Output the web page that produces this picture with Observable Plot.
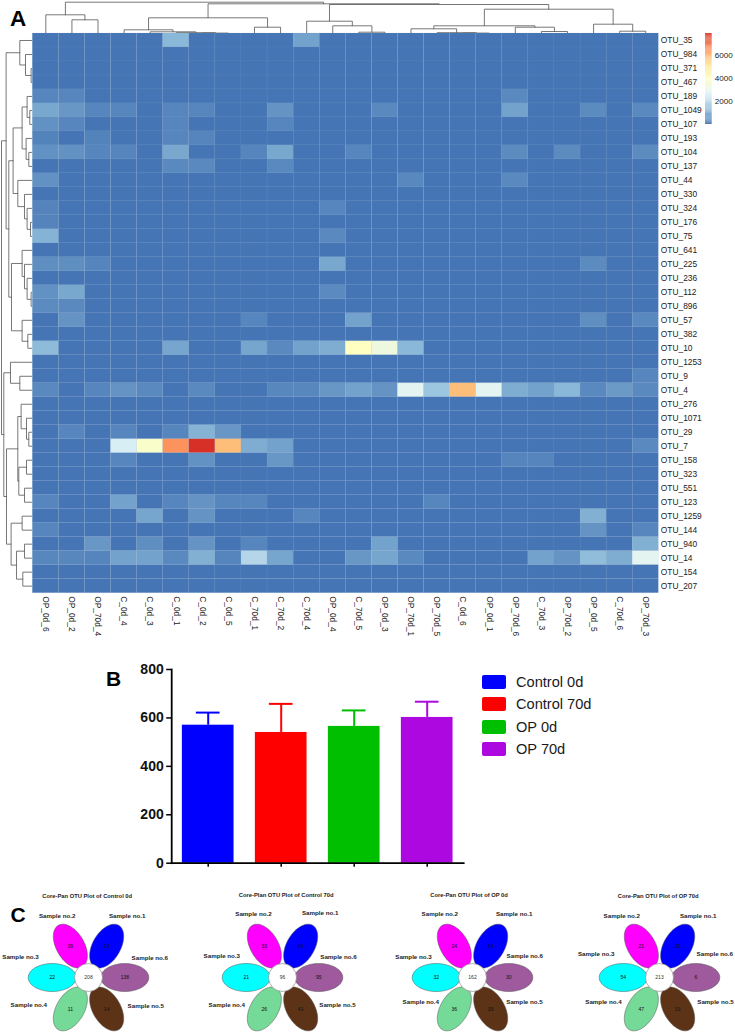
<!DOCTYPE html>
<html>
<head>
<meta charset="utf-8">
<script src="https://cdn.jsdelivr.net/npm/d3@7"></script>
<script src="https://cdn.jsdelivr.net/npm/@observablehq/plot@0.6"></script>
<style>
html,body{margin:0;padding:0;background:#fff}
#fig{position:relative;width:735px;height:1033px;overflow:hidden;font-family:"Liberation Sans",Arial,sans-serif}
#fig svg{position:absolute;background:transparent;max-width:none}
.pl{position:absolute;font-weight:bold;color:#000;line-height:1}
.sw{position:absolute;width:24px;height:14px;border-radius:2px}
.lg{position:absolute;font-size:14.6px;color:#1a1a1a;line-height:1}
</style>
</head>
<body>
<div id="fig"></div>
<script>
// ---------- Panel A data ----------
const samples = ["OP_0d_6","OP_0d_2","OP_70d_4","C_0d_4","C_0d_3","C_0d_1","C_0d_2","C_0d_5","C_70d_1","C_70d_2","C_70d_4","OP_0d_4","C_70d_5","OP_0d_3","OP_70d_1","OP_70d_5","C_0d_6","OP_0d_1","OP_70d_6","C_70d_3","OP_70d_2","OP_0d_5","C_70d_6","OP_70d_3"];
const otus = ["OTU_35","OTU_984","OTU_371","OTU_467","OTU_189","OTU_1049","OTU_107","OTU_193","OTU_104","OTU_137","OTU_44","OTU_330","OTU_324","OTU_176","OTU_75","OTU_641","OTU_225","OTU_236","OTU_112","OTU_896","OTU_57","OTU_382","OTU_10","OTU_1253","OTU_9","OTU_4","OTU_276","OTU_1071","OTU_29","OTU_7","OTU_158","OTU_323","OTU_551","OTU_123","OTU_1259","OTU_144","OTU_940","OTU_14","OTU_154","OTU_207"];
const abundance = [
[0,0,0,0,0,1200,0,0,0,0,800,0,0,0,0,0,0,0,0,0,0,0,0,0],
[0,0,0,0,0,0,0,0,0,0,0,0,0,0,0,0,0,0,0,0,0,0,0,0],
[0,0,0,0,0,0,0,0,0,0,0,0,0,0,0,0,0,0,0,0,0,0,0,0],
[0,0,0,0,0,0,0,0,0,0,0,0,0,0,0,0,0,0,0,0,0,0,0,0],
[300,300,0,0,0,0,0,0,0,0,0,0,0,0,0,0,0,0,350,0,0,0,0,0],
[900,600,300,300,0,300,300,0,0,550,0,0,0,350,0,0,0,0,800,0,0,400,0,350],
[500,300,0,0,0,300,0,0,0,300,0,0,0,0,0,0,0,0,0,0,0,0,0,0],
[250,0,250,0,0,300,280,0,0,0,0,0,0,0,0,0,0,0,0,0,0,0,0,0],
[500,500,300,280,0,900,0,0,280,900,0,0,300,0,0,0,0,0,400,0,400,0,0,400],
[0,0,0,0,0,350,350,0,0,350,0,0,0,0,0,0,0,0,0,0,0,0,0,0],
[500,0,0,0,0,0,0,0,0,0,0,0,0,0,330,0,0,0,350,0,0,0,0,0],
[0,0,0,0,0,0,0,0,0,0,0,0,0,0,0,0,0,0,0,0,0,0,0,0],
[270,0,0,0,0,0,0,0,0,0,0,300,0,0,0,0,0,0,0,0,0,0,0,0],
[270,0,0,0,0,0,0,0,0,0,0,0,0,0,0,0,0,0,0,0,0,0,0,0],
[1100,0,0,0,0,0,0,0,0,0,0,350,0,0,0,0,0,0,0,0,0,0,0,0],
[0,0,0,0,0,0,0,0,0,0,0,0,0,0,0,0,0,0,0,0,0,0,0,0],
[450,450,280,0,0,0,0,0,0,0,0,900,0,0,0,0,0,0,0,0,0,400,0,0],
[0,0,0,0,0,0,0,0,0,0,0,0,0,0,0,0,0,0,0,0,0,0,0,0],
[500,900,0,0,0,0,0,0,0,0,0,370,0,0,0,0,0,0,0,0,0,0,0,0],
[400,350,0,0,0,0,0,0,0,0,0,0,0,0,0,0,0,0,0,0,0,0,0,0],
[0,550,0,0,0,0,0,0,300,0,0,0,800,0,0,0,0,0,0,0,0,450,0,350],
[0,0,0,0,0,0,0,0,0,0,0,0,0,0,0,0,0,0,0,0,0,0,0,0],
[1250,0,0,0,0,850,0,0,850,350,800,1000,3900,3200,1200,0,0,0,0,0,0,0,0,0],
[0,0,0,0,0,0,0,0,0,0,0,0,0,0,0,0,0,0,0,0,0,0,0,0],
[0,0,0,0,0,0,0,0,0,0,0,0,0,0,0,0,0,0,0,0,0,0,0,300],
[350,0,300,550,350,0,350,0,0,320,320,600,800,550,2800,1500,5800,2800,1000,800,1200,350,650,350],
[0,0,0,0,0,0,0,0,0,0,0,0,0,0,0,0,0,0,0,0,0,0,0,0],
[0,0,0,0,0,0,0,0,0,0,0,0,0,0,0,0,0,0,0,0,0,0,0,0],
[0,300,0,300,0,300,1100,600,0,0,0,0,0,0,0,0,0,0,0,0,0,0,0,0],
[0,0,0,2500,3700,6500,7900,5800,1000,800,0,0,0,0,0,0,0,0,0,0,0,0,0,350],
[0,0,0,300,0,0,500,0,0,600,0,0,0,0,0,0,0,0,280,280,0,0,0,0],
[0,0,0,0,0,0,0,0,0,0,0,0,0,0,0,0,0,0,0,0,0,0,0,0],
[0,0,0,0,0,0,0,0,0,0,0,0,0,0,0,0,0,0,0,0,0,0,0,0],
[300,0,0,800,0,300,550,300,300,0,0,0,0,0,0,300,0,0,0,0,0,0,0,0],
[0,0,0,0,850,0,550,0,0,0,300,0,0,0,0,0,0,0,0,0,0,1050,0,0],
[300,0,0,0,0,0,0,0,0,0,0,0,0,0,0,0,0,0,0,0,0,550,0,300],
[0,0,600,0,450,0,550,0,300,0,0,0,0,800,0,0,0,0,0,0,0,0,0,1050],
[320,320,280,800,800,350,1050,280,1900,850,0,0,600,850,350,0,0,0,0,800,550,1300,1000,2800],
[0,0,0,0,0,0,0,0,0,0,0,0,0,0,0,0,0,0,0,0,0,0,0,0],
[0,0,0,0,0,0,0,0,0,0,0,0,0,0,0,0,0,0,0,0,0,0,0,0]
];
const colorDomain = [0,1317,2633,3950,5267,6583,7900];
const colorRange = ["#4575B4","#91BFDB","#E0F3F8","#FFFFBF","#FEE090","#FC8D59","#D73027"];
const colorbarTicks = [2000,4000,6000];

// dendrograms: [height, left, right]; a number is a leaf in display order
const colTree = [31.3,
  [18.7, 0, [13.7, 1, 2]],
  [29.7,
    [15.7, [3.7, 3, [1.7, 4, [0.8, 5, [0.4, 6, 7]]]], [6.3, 8, 9]],
    [29,
      [12.3, 10, [7.7, 11, [1.3, 12, 13]]],
      [24.3,
        [7.7, [4.7, 14, [0.8, 15, [0.4, 16, 17]]], [6.3, 18, [2, 19, 20]]],
        [9.3, 21, [2.3, 22, 23]]]]]];
const rowTree = [31.3,
  [26.7,
    [13, 0, [7.3, 1, [1.7, 2, 3]]],
    [24,
      [19.7,
        [10.7, [5.7, 4, [3, 5, 6]], [6.7, 7, [4, 8, 9]]],
        [15, 10, [8.3, 11, [5.7, 12, [2.3, 13, 14]]]]],
      [21.3,
        [10.7, 15, [8.3, 16, [5.7, 17, [1.7, 18, 19]]]],
        [10.7, 20, [5, 21, 22]]]]],
  [29,
    [22.3, 23, [13, 24, 25]],
    [26.3,
      [15,
        [11.7, 26, [6.3, 27, [4, 28, 29]]],
        [14, [6.3, 30, 31], [8.3, 32, 33]]],
      [21.7,
        [10.7, 34, 35],
        [16.3, [8.3, 36, 37], [10, 38, 39]]]]]];

// ---------- Panel B data ----------
const groups = ["Control 0d","Control 70d","OP 0d","OP 70d"];
const groupMeans = [570,540,565,602];
const groupUpper = [622,658,631,667];
const groupColors = ["#0000FF","#FF0000","#00BE00","#AD08E0"];
const richnessTicks = [0,200,400,600,800];

// ---------- Panel C data ----------
const flowerTitles = ["Core-Pan OTU Plot of Control 0d","Core-Plan OTU Plot of Control 70d","Core-Pan OTU Plot of OP 0d","Core-Pan OTU Plot of OP 70d"];
const sampleNames = ["Sample no.1","Sample no.2","Sample no.3","Sample no.4","Sample no.5","Sample no.6"];
const petalColors = ["#0000FF","#FF00FF","#00FFFF","#75D998","#5C3317","#9E5A9C"];
const uniqueCounts = [
  [23,39,22,11,14,138],
  [30,33,21,26,41,95],
  [34,24,32,36,39,30],
  [31,21,54,47,33,6]
];
const coreCounts = [208,96,162,213];

// ---------- Layout (not data) ----------
const fig = document.getElementById("fig");
const font = '"Liberation Sans", Arial, sans-serif';
function place(svg,left,top){svg.style.left=left+"px";svg.style.top=top+"px";fig.appendChild(svg);}
function html(cls,left,top,text,extra){const d=document.createElement("div");d.className=cls;d.style.left=left+"px";d.style.top=top+"px";if(text)d.textContent=text;Object.assign(d.style,extra||{});fig.appendChild(d);}

const hmL=32.3,hmR=658.3,hmT=33,hmB=592.7;

// heatmap
const cells = abundance.flatMap((row,i)=>row.map((v,j)=>({otu:otus[i],sample:samples[j],v})));
place(Plot.plot({
  width:735,height:650,
  marginLeft:hmL,marginRight:735-hmR,marginTop:hmT,marginBottom:650-hmB,
  style:{fontFamily:font,background:"transparent"},
  x:{domain:samples,padding:0,round:false,axis:null,label:null},
  y:{domain:otus,padding:0,round:false,axis:null,label:null},
  color:{type:"linear",domain:colorDomain,range:colorRange,interpolate:"rgb"},
  marks:[
    Plot.cell(cells,{x:"sample",y:"otu",fill:"v",stroke:"#7b9ccb",strokeWidth:0.4,strokeOpacity:0.3}),
    Plot.axisY(otus,{anchor:"right",tickSize:0,tickPadding:2,fontSize:8.4,fill:"#222",label:null}),
    Plot.axisX(samples,{anchor:"bottom",tickSize:0,tickPadding:3,tickRotate:90,fontSize:8.4,fill:"#222",label:null})
  ]
}),0,0);

// dendrogram geometry
function dendroLinks(tree){
  const segs=[];let id=0;
  (function walk(n){
    if(typeof n==="number")return {p:n+0.5,h:0};
    const a=walk(n[1]),b=walk(n[2]),k=id++;
    [[a.p,a.h],[a.p,n[0]],[b.p,n[0]],[b.p,b.h]].forEach(([p,h])=>segs.push({k,p,h}));
    return {p:(a.p+b.p)/2,h:n[0]};
  })(tree);
  return segs;
}
const dendroStyle={stroke:"#5e5e5e",strokeWidth:0.85,z:"k"};
place(Plot.plot({
  width:735,height:33,margin:0,marginLeft:hmL,marginRight:735-hmR,marginTop:0,marginBottom:0,
  x:{type:"linear",domain:[0,samples.length],axis:null},
  y:{type:"linear",domain:[0,33],axis:null},
  marks:[Plot.line(dendroLinks(colTree),{x:"p",y:"h",...dendroStyle})]
}),0,0);
place(Plot.plot({
  width:hmL,height:650,margin:0,marginTop:hmT,marginBottom:650-hmB,marginLeft:0,marginRight:0,
  x:{type:"linear",domain:[hmL,0],axis:null},
  y:{type:"linear",domain:[otus.length,0],axis:null},
  marks:[Plot.line(dendroLinks(rowTree),{y:"p",x:"h",...dendroStyle})]
}),0,0);

// colour bar
const barSteps=d3.range(0,7900,79);
place(Plot.plot({
  width:30,height:140,marginLeft:0,marginRight:23.3,marginTop:33,marginBottom:16,
  style:{fontFamily:font,background:"transparent",overflow:"visible"},
  x:{axis:null,domain:[0,1]},
  y:{type:"linear",domain:[0,7900],axis:null},
  color:{type:"linear",domain:colorDomain,range:colorRange,interpolate:"rgb"},
  marks:[
    Plot.rect(barSteps,{x1:()=>0,x2:()=>1,y1:d=>d,y2:d=>d+79,fill:d=>d}),
    Plot.axisY({anchor:"right",ticks:colorbarTicks,tickSize:0,tickPadding:2.5,fontSize:8.1,fill:"#222",label:null,tickFormat:d=>String(d)})
  ]
}),705,0);

// Panel B
const barData=groups.map((g,i)=>({g,mean:groupMeans[i],upper:groupUpper[i]}));
const barTop=640;
place(Plot.plot({
  width:520,height:240,marginLeft:171.2,marginRight:520-463.2,marginTop:669-barTop,marginBottom:barTop+240-862.7,
  style:{fontFamily:font,background:"transparent"},
  x:{domain:groups,paddingInner:0.292,paddingOuter:0.146,round:false,axis:null,label:null},
  y:{domain:[0,800],axis:null,label:null},
  color:{domain:groups,range:groupColors},
  marks:[
    Plot.barY(barData,{x:"g",y:"mean",fill:"g"}),
    Plot.ruleX(barData,{x:"g",y1:"mean",y2:"upper",stroke:"g",strokeWidth:2}),
    Plot.tickY(barData,{x:"g",y:"upper",stroke:"g",strokeWidth:2,insetLeft:14,insetRight:14}),
    Plot.frame({anchor:"left",stroke:"#000",strokeWidth:1.8}),
    Plot.frame({anchor:"bottom",stroke:"#000",strokeWidth:1.8}),
    Plot.axisY({anchor:"left",ticks:richnessTicks,tickSize:5,tickPadding:3,fontSize:14,fontWeight:"bold",fill:"#111",stroke:"#000",strokeWidth:1.5,label:null}),
    Plot.axisX({anchor:"bottom",tickSize:4,tickFormat:()=>"",stroke:"#000",strokeWidth:1.5,label:null})
  ]
}),0,barTop);
const legendY=[675,697.3,720,742];
groups.forEach((g,i)=>{
  html("sw",481.7,legendY[i],"",{background:groupColors[i]});
  html("lg",516,legendY[i]-0.3,g);
});

// Panel C
const flowerCenters=[88,282.3,471.7,659];
const titleShift=[[-1.3,-81.3],[3.7,-82.3],[-3.4,-82.3],[-1.3,-81]];
const labelOffsets=[
 [[38.7,-61],[-31.3,-61],[-68,-20.7],[-59.7,27.3],[57.3,28.3],[61.3,-19.7]],
 [[37.7,-64.3],[-29,-63.3],[-60.7,-21],[-55.7,27.7],[55,27.7],[56,-20]],
 [[41.7,-63.3],[-32.7,-63.3],[-59,-20.3],[-51.7,24.7],[52,24.7],[52.3,-21.7]],
 [[38.7,-61.7],[-37.7,-61.7],[-63.3,-23.3],[-56,24.7],[56,24.7],[55.3,-23.3]]
];
const petalAngles=[-60,-120,180,120,60,0];
const petalDist=36.3,petalRx=24,petalRy=14,hubR=14;
function petalPts(idx){
  const a=petalAngles[idx]*Math.PI/180,cx=petalDist*Math.cos(a),cy=petalDist*Math.sin(a);
  return d3.range(0,360,6).map(t=>{const u=t*Math.PI/180,ex=petalRx*Math.cos(u),ey=petalRy*Math.sin(u);
    return {s:idx,x:cx+ex*Math.cos(a)-ey*Math.sin(a),y:cy+ex*Math.sin(a)+ey*Math.cos(a)};});
}
const allPetals=sampleNames.flatMap((_,i)=>petalPts(i));
flowerCenters.forEach((cx,f)=>{
  const sub=sampleNames.map((n,i)=>{
    const a=petalAngles[i]*Math.PI/180;
    return {n,v:uniqueCounts[f][i],vx:petalDist*Math.cos(a),vy:petalDist*Math.sin(a),lx:labelOffsets[f][i][0],ly:labelOffsets[f][i][1]};
  });
  place(Plot.plot({
    width:184,height:153,margin:0,
    style:{fontFamily:font,background:"transparent"},
    x:{type:"linear",domain:[-92,92],range:[0,184],axis:null},
    y:{type:"linear",domain:[-97,56],range:[0,153],axis:null},
    color:{domain:sampleNames.map((_,i)=>i),range:petalColors},
    marks:[
      Plot.line(allPetals,{x:"x",y:"y",z:"s",fill:"s",stroke:"#555",strokeWidth:0.5,curve:"linear-closed"}),
      Plot.dot([0],{x:()=>0,y:()=>0,r:hubR,fill:"#fff",stroke:"#777",strokeWidth:0.6}),
      Plot.text(sub,{x:"vx",y:"vy",text:d=>String(d.v),fontSize:5,fill:"#111"}),
      Plot.text([coreCounts[f]],{x:()=>0,y:()=>0,text:d=>String(d),fontSize:5,fill:"#333"}),
      Plot.text(sub,{x:"lx",y:"ly",text:"n",fontSize:6.2,fontWeight:"bold",fill:"#222"}),
      Plot.text([flowerTitles[f]],{x:()=>titleShift[f][0],y:()=>titleShift[f][1],text:d=>d,fontSize:5.8,fontWeight:"bold",fill:"#222"})
    ]
  }),cx-92,880);
});

// panel letters
html("pl",10,7.5,"A",{fontSize:"22.5px"});
html("pl",106,668,"B",{fontSize:"21px"});
html("pl",10.5,904,"C",{fontSize:"21px"});
</script>
</body>
</html>
